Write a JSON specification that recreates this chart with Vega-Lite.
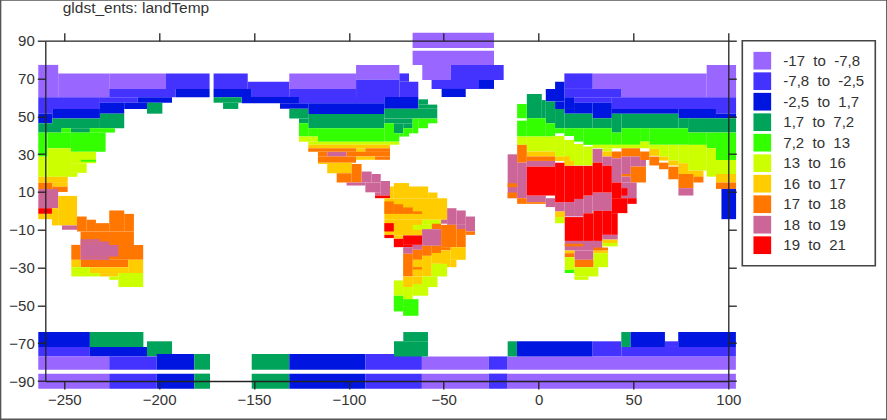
{
"$schema":"https://vega.github.io/schema/vega-lite/v6.json",
"description":"gldst_ents land temperature map, blocky grid cells by class",
"width":683,"height":340.3,
"autosize":{"type":"none"},
"padding":{"left":45.3,"top":40.7,"right":158.7,"bottom":39},
"background":"white",
"title":{"text":"gldst_ents: landTemp","anchor":"start","frame":"group","dx":17.4,"offset":-29.3,"baseline":"alphabetic","font":"Liberation Sans","fontSize":15.5,"fontWeight":"normal","color":"#333333"},
"config":{"view":{"stroke":null},"legend":{"strokeWidth":1.6},"axis":{"labelFont":"Liberation Sans","labelFontSize":15,"labelColor":"#333333","domainColor":"#222222","tickColor":"#222222","domainWidth":1.3,"tickWidth":1.3,"tickSize":8,"grid":false,"title":null,"labelOverlap":false,"labelBound":false,"labelFlush":false}},
"layer":[
{"data":{"values":[
{"w":-263.7,"e":-253.2,"s":60.1,"n":77.2,"c":1},{"w":-253.2,"e":-226.3,"s":60.1,"n":72.7,"c":1},{"w":-226.3,"e":-196.4,"s":64.5,"n":72.7,"c":1},
{"w":-196.4,"e":-173.4,"s":64.5,"n":72.7,"c":2},{"w":-226.3,"e":-191.3,"s":60.1,"n":64.5,"c":2},{"w":-263.7,"e":-231.2,"s":53.9,"n":60.1,"c":2},{"w":-263.7,"e":-256.3,"s":51.4,"n":53.9,"c":2},{"w":-231.2,"e":-211.3,"s":57.2,"n":60.1,"c":2},
{"w":-263.7,"e":-256.3,"s":46.3,"n":51.4,"c":3},{"w":-256.3,"e":-231.2,"s":48.8,"n":53.9,"c":3},{"w":-231.2,"e":-218.4,"s":51.4,"n":57.2,"c":3},{"w":-218.4,"e":-206.4,"s":53.9,"n":57.2,"c":3},{"w":-211.3,"e":-193.2,"s":57.2,"n":60.1,"c":3},{"w":-191.3,"e":-173.4,"s":60.1,"n":64.5,"c":3},
{"w":-263.7,"e":-251.4,"s":41.4,"n":46.3,"c":4},{"w":-256.3,"e":-231.2,"s":43.7,"n":48.8,"c":4},{"w":-231.2,"e":-218.4,"s":43.7,"n":51.4,"c":4},{"w":-246.5,"e":-236.5,"s":41.4,"n":43.7,"c":4},{"w":-206.4,"e":-198.3,"s":51.4,"n":57.2,"c":4},
{"w":-251.4,"e":-246.5,"s":41.4,"n":43.7,"c":5},{"w":-236.5,"e":-223.3,"s":41.4,"n":43.7,"c":5},{"w":-263.7,"e":-258.8,"s":28.7,"n":41.4,"c":5},{"w":-258.8,"e":-246.5,"s":33.1,"n":41.4,"c":5},{"w":-246.5,"e":-228.2,"s":31.2,"n":41.4,"c":5},
{"w":-263.7,"e":-258.8,"s":18,"n":28.7,"c":6},{"w":-258.8,"e":-246.5,"s":18,"n":33.1,"c":6},{"w":-246.5,"e":-233.3,"s":25.2,"n":31.2,"c":6},{"w":-246.5,"e":-238.2,"s":20.1,"n":25.2,"c":6},{"w":-246.5,"e":-243.1,"s":18,"n":20.1,"c":6},{"w":-241.2,"e":-233.3,"s":26,"n":27,"c":5},
{"w":-263.7,"e":-248.2,"s":14.8,"n":18,"c":7},{"w":-256.3,"e":-248.2,"s":12.8,"n":14.8,"c":7},{"w":-263.7,"e":-256.3,"s":11.4,"n":14.8,"c":8},{"w":-256.3,"e":-248.2,"s":10,"n":12.8,"c":8},
{"w":-263.7,"e":-253.2,"s":1.4,"n":11.5,"c":9},{"w":-263.7,"e":-256.5,"s":-1.6,"n":1.4,"c":10},{"w":-263.7,"e":-256.5,"s":-4.4,"n":-1.6,"c":7},{"w":-256.5,"e":-253.2,"s":-7.7,"n":1.4,"c":7},{"w":-253.2,"e":-243.3,"s":-7.7,"n":7.9,"c":7},{"w":-251.2,"e":-243.3,"s":-10,"n":-7.7,"c":9},
{"w":-243.3,"e":-238.2,"s":-10.9,"n":-3,"c":8},{"w":-238.2,"e":-233.3,"s":-10.9,"n":-4.7,"c":8},{"w":-233.3,"e":-226.3,"s":-10.9,"n":-6.5,"c":8},{"w":-226.3,"e":-218.4,"s":-10.9,"n":0.2,"c":8},{"w":-218.4,"e":-213.3,"s":-10.9,"n":-1.6,"c":8},{"w":-246.3,"e":-241.4,"s":-25.9,"n":-18,"c":8},{"w":-241.4,"e":-213.3,"s":-18,"n":-10.9,"c":8},{"w":-241.4,"e":-208.4,"s":-25.9,"n":-18,"c":8},{"w":-241.4,"e":-216.3,"s":-29.8,"n":-25.9,"c":8},
{"w":-241.4,"e":-231.2,"s":-16.2,"n":-15,"c":9},{"w":-241.4,"e":-226.3,"s":-18,"n":-16.2,"c":9},{"w":-241.4,"e":-221.5,"s":-24.1,"n":-18,"c":9},{"w":-241.4,"e":-226.3,"s":-25.9,"n":-24.1,"c":9},
{"w":-246.3,"e":-241.4,"s":-29.8,"n":-25.9,"c":7},{"w":-236.5,"e":-216.3,"s":-32.9,"n":-29.8,"c":7},{"w":-216.3,"e":-208.4,"s":-32.9,"n":-25.9,"c":7},{"w":-231.2,"e":-221.5,"s":-34.7,"n":-32.9,"c":7},
{"w":-246.3,"e":-236.5,"s":-34.7,"n":-29.8,"c":6},{"w":-236.5,"e":-231.2,"s":-34.7,"n":-32.9,"c":6},{"w":-226.3,"e":-221.5,"s":-36.5,"n":-34.7,"c":6},{"w":-221.5,"e":-208.4,"s":-40.3,"n":-32.9,"c":6},
{"w":-171.3,"e":-153.3,"s":64.5,"n":72.7,"c":2},{"w":-153.3,"e":-131.4,"s":64.5,"n":68.3,"c":2},{"w":-151.2,"e":-131.4,"s":60.1,"n":64.5,"c":2},{"w":-171.3,"e":-151.2,"s":60.1,"n":64.5,"c":3},{"w":-156.5,"e":-126.3,"s":56.9,"n":60.2,"c":3},{"w":-136.3,"e":-121.4,"s":54,"n":56.9,"c":3},{"w":-171.3,"e":-156.5,"s":57.2,"n":60.1,"c":4},{"w":-166.3,"e":-158.3,"s":53.9,"n":57.2,"c":4},
{"w":-131.4,"e":-96.2,"s":64.5,"n":72.7,"c":1},{"w":-96.2,"e":-73.4,"s":69.3,"n":77.2,"c":1},
{"w":-131.4,"e":-96.2,"s":60.2,"n":64.5,"c":2},{"w":-96.2,"e":-73.4,"s":60.2,"n":69.3,"c":2},{"w":-73.4,"e":-63.4,"s":60.2,"n":68.3,"c":2},{"w":-73.4,"e":-68.3,"s":68.3,"n":72.7,"c":2},{"w":-126.3,"e":-81.3,"s":56.9,"n":60.2,"c":2},
{"w":-121.4,"e":-81.3,"s":51.2,"n":56.9,"c":3},{"w":-81.3,"e":-63.4,"s":54,"n":60.2,"c":3},
{"w":-131.4,"e":-121.4,"s":48.8,"n":54,"c":4},{"w":-121.4,"e":-81.3,"s":43.7,"n":51.2,"c":4},{"w":-126.3,"e":-121.4,"s":46.3,"n":48.8,"c":4},{"w":-81.3,"e":-53.4,"s":48.8,"n":54,"c":4},{"w":-63.4,"e":-53.4,"s":54,"n":56.2,"c":4},{"w":-63.4,"e":-58.3,"s":56.2,"n":59,"c":4},{"w":-81.3,"e":-66.4,"s":46.3,"n":48.8,"c":4},{"w":-76.2,"e":-71.3,"s":41,"n":46.3,"c":4},{"w":-71.3,"e":-66.4,"s":43.7,"n":46.3,"c":4},
{"w":-126.3,"e":-121.4,"s":39.3,"n":46.3,"c":5},{"w":-121.4,"e":-116.3,"s":39.3,"n":43.7,"c":5},{"w":-116.3,"e":-81.3,"s":36.6,"n":43.7,"c":5},{"w":-81.3,"e":-76.2,"s":36.6,"n":46.3,"c":5},{"w":-76.2,"e":-73.4,"s":36.6,"n":41,"c":5},{"w":-73.4,"e":-71.3,"s":39.3,"n":41,"c":5},{"w":-71.3,"e":-68.3,"s":39.3,"n":43.7,"c":5},{"w":-68.3,"e":-66.4,"s":41,"n":43.7,"c":5},{"w":-66.4,"e":-63.4,"s":41,"n":48.8,"c":5},{"w":-63.4,"e":-58.3,"s":43.7,"n":48.8,"c":5},{"w":-58.3,"e":-53.4,"s":46.3,"n":48.8,"c":5},
{"w":-126.3,"e":-116.3,"s":36.6,"n":39.3,"c":6},{"w":-121.4,"e":-73.4,"s":34.9,"n":36.6,"c":6},
{"w":-121.4,"e":-78.3,"s":33.1,"n":34.9,"c":7},{"w":-121.4,"e":-96.2,"s":31.2,"n":33.1,"c":8},{"w":-96.2,"e":-91.3,"s":31.2,"n":33.1,"c":7},{"w":-91.3,"e":-78.3,"s":31.2,"n":33.1,"c":8},{"w":-116.3,"e":-111.4,"s":28.7,"n":31.2,"c":8},{"w":-111.4,"e":-101.2,"s":28.7,"n":31.2,"c":9},{"w":-101.2,"e":-78.3,"s":28.7,"n":31.2,"c":8},{"w":-116.3,"e":-96.2,"s":25.5,"n":28.7,"c":8},{"w":-96.2,"e":-86.2,"s":27,"n":28.7,"c":7},{"w":-86.2,"e":-78.3,"s":27,"n":28.7,"c":8},{"w":-116.3,"e":-111.4,"s":24.8,"n":25.5,"c":7},{"w":-111.4,"e":-98.5,"s":19.9,"n":25.5,"c":7},{"w":-98.5,"e":-93.3,"s":15,"n":24.8,"c":8},{"w":-106.4,"e":-98.5,"s":15,"n":19.9,"c":8},
{"w":-93.3,"e":-88,"s":15,"n":20.8,"c":9},{"w":-88,"e":-83.2,"s":15,"n":19.5,"c":9},{"w":-101.2,"e":-91.3,"s":13.4,"n":15,"c":9},{"w":-91.3,"e":-83.2,"s":9.8,"n":15,"c":9},{"w":-83.2,"e":-78.3,"s":8.1,"n":15.8,"c":9},{"w":-86.2,"e":-83.2,"s":8.1,"n":9.8,"c":9},{"w":-86.2,"e":-78.3,"s":6.7,"n":8.1,"c":10},
{"w":-66.4,"e":-23.5,"s":86.1,"n":94.2,"c":1},{"w":-66.4,"e":-23.5,"s":77.2,"n":84.7,"c":1},{"w":-61.3,"e":-46.3,"s":69.2,"n":77.2,"c":1},{"w":-46.3,"e":-18.4,"s":69.2,"n":77.2,"c":2},{"w":-56.4,"e":-31.4,"s":64.5,"n":69.2,"c":2},{"w":-31.4,"e":-23.5,"s":64.5,"n":69.2,"c":3},{"w":-51.1,"e":-38.4,"s":60.2,"n":64.5,"c":3},
{"w":-76.3,"e":-68.3,"s":6.7,"n":14.7,"c":7},{"w":-78.3,"e":-76.3,"s":6.7,"n":12.9,"c":7},{"w":-68.3,"e":-58.2,"s":6.7,"n":12.9,"c":7},{"w":-58.2,"e":-53.3,"s":6.7,"n":9.7,"c":7},{"w":-81.3,"e":-48.2,"s":-4.7,"n":6.7,"c":7},{"w":-81.3,"e":-76.3,"s":-12.7,"n":-4.7,"c":7},{"w":-76.3,"e":-61.4,"s":-13,"n":-4.7,"c":7},{"w":-76.3,"e":-71.4,"s":-14.8,"n":-13,"c":7},
{"w":-81.3,"e":-76.3,"s":-1.6,"n":5,"c":8},{"w":-76.3,"e":-71.4,"s":-1.6,"n":3.5,"c":8},{"w":-71.4,"e":-66.3,"s":-1.6,"n":1.8,"c":8},{"w":-66.3,"e":-61.4,"s":-1.6,"n":-0.3,"c":8},
{"w":-61.4,"e":-51.4,"s":-7.4,"n":-4.7,"c":6},{"w":-66.3,"e":-56.3,"s":-10,"n":-7.4,"c":6},
{"w":-81.3,"e":-76.3,"s":-10.9,"n":-6.5,"c":10},{"w":-81.3,"e":-76.3,"s":-14.4,"n":-12.7,"c":10},{"w":-71.4,"e":-61.4,"s":-18,"n":-13,"c":10},{"w":-76.3,"e":-71.4,"s":-19.2,"n":-14.8,"c":10},{"w":-71.4,"e":-66.3,"s":-19.2,"n":-18,"c":10},
{"w":-48.2,"e":-43.3,"s":-7.4,"n":1.4,"c":9},{"w":-43.3,"e":-38.4,"s":-7.4,"n":0.2,"c":9},{"w":-38.4,"e":-33.5,"s":-10.9,"n":-3,"c":9},{"w":-51.4,"e":-48.2,"s":-6.8,"n":-4.7,"c":9},{"w":-61.4,"e":-51.4,"s":-18.5,"n":-9.7,"c":9},{"w":-66.3,"e":-61.4,"s":-20.6,"n":-18,"c":9},{"w":-71.4,"e":-66.3,"s":-22.7,"n":-19.2,"c":9},{"w":-43.3,"e":-38.4,"s":-9.6,"n":-7.4,"c":9},
{"w":-56.3,"e":-51.4,"s":-9.6,"n":-6.8,"c":8},{"w":-51.4,"e":-43.3,"s":-19.2,"n":-7.4,"c":8},{"w":-43.3,"e":-38.4,"s":-19.2,"n":-9.6,"c":8},{"w":-38.4,"e":-33.5,"s":-12.7,"n":-10.9,"c":8},{"w":-71.4,"e":-66.3,"s":-34.7,"n":-22.7,"c":8},{"w":-66.3,"e":-61.4,"s":-25.9,"n":-20.6,"c":8},{"w":-61.4,"e":-56.3,"s":-23.8,"n":-18.5,"c":8},{"w":-56.3,"e":-51.4,"s":-22.3,"n":-18.5,"c":8},{"w":-51.4,"e":-46.3,"s":-20.9,"n":-19.2,"c":8},
{"w":-46.3,"e":-38.4,"s":-25.9,"n":-19.2,"c":7},{"w":-51.4,"e":-46.3,"s":-29.8,"n":-20.9,"c":7},{"w":-46.3,"e":-43.3,"s":-29.8,"n":-25.9,"c":7},{"w":-56.3,"e":-51.4,"s":-28,"n":-22.3,"c":7},{"w":-61.4,"e":-56.3,"s":-34.7,"n":-23.8,"c":7},{"w":-66.3,"e":-61.4,"s":-34.7,"n":-25.9,"c":7},{"w":-71.4,"e":-66.3,"s":-40.3,"n":-34.7,"c":7},{"w":-66.3,"e":-61.4,"s":-38.7,"n":-34.7,"c":7},{"w":-66.3,"e":-61.4,"s":-31,"n":-29.8,"c":8},
{"w":-56.3,"e":-48.2,"s":-34.7,"n":-28,"c":6},{"w":-61.4,"e":-53.3,"s":-40.3,"n":-34.7,"c":6},{"w":-66.3,"e":-58.2,"s":-44.9,"n":-38.7,"c":6},{"w":-76.3,"e":-71.4,"s":-44.9,"n":-36.8,"c":6},{"w":-71.4,"e":-66.3,"s":-46.7,"n":-40.3,"c":6},
{"w":-76.3,"e":-71.4,"s":-53.2,"n":-44.9,"c":5},{"w":-71.4,"e":-63.3,"s":-55.5,"n":-46.7,"c":5},
{"w":28.5,"e":88.6,"s":64.5,"n":72.7,"c":1},{"w":43.7,"e":88.6,"s":60.1,"n":64.5,"c":1},{"w":88.6,"e":104.1,"s":60.1,"n":77.2,"c":1},
{"w":13.6,"e":28.5,"s":64.5,"n":72.7,"c":2},{"w":13.6,"e":43.7,"s":60.1,"n":64.5,"c":2},{"w":18.7,"e":38.6,"s":57.2,"n":60.1,"c":2},{"w":38.6,"e":104.1,"s":53.9,"n":60.1,"c":2},{"w":93.5,"e":104.1,"s":51.4,"n":53.9,"c":2},
{"w":8.7,"e":13.6,"s":64.5,"n":68.3,"c":3},{"w":3.8,"e":13.6,"s":57.8,"n":64.5,"c":3},{"w":13.6,"e":18.7,"s":53.9,"n":60.1,"c":3},{"w":8.7,"e":13.6,"s":53.9,"n":57.8,"c":3},{"w":18.7,"e":28.5,"s":51.4,"n":57.2,"c":3},{"w":13.6,"e":18.7,"s":51.4,"n":53.9,"c":3},{"w":28.5,"e":38.6,"s":49,"n":57.2,"c":3},{"w":38.6,"e":73.7,"s":51.4,"n":53.9,"c":3},{"w":73.7,"e":93.5,"s":49,"n":53.9,"c":3},{"w":93.5,"e":104.1,"s":49,"n":51.4,"c":3},
{"w":-6.2,"e":1.7,"s":49,"n":61.8,"c":4},{"w":1.7,"e":3.8,"s":49,"n":58.6,"c":4},{"w":3.8,"e":8.7,"s":46.3,"n":57.8,"c":4},{"w":8.7,"e":13.6,"s":43.7,"n":53.9,"c":4},{"w":13.6,"e":28.5,"s":43.7,"n":51.4,"c":4},{"w":28.5,"e":38.6,"s":43.7,"n":49,"c":4},{"w":38.6,"e":43.7,"s":41.4,"n":51.4,"c":4},{"w":43.7,"e":73.7,"s":43.7,"n":51.4,"c":4},{"w":73.7,"e":78.8,"s":43.7,"n":49,"c":4},{"w":78.8,"e":104.1,"s":41.4,"n":49,"c":4},
{"w":-11.3,"e":-6.2,"s":49,"n":56.5,"c":5},{"w":-11.3,"e":-6.2,"s":39.3,"n":47.7,"c":5},{"w":-6.2,"e":3.8,"s":39.3,"n":49,"c":5},{"w":3.8,"e":8.7,"s":39.3,"n":46.3,"c":5},{"w":8.7,"e":13.6,"s":41,"n":43.7,"c":5},{"w":13.6,"e":18.7,"s":39.6,"n":43.7,"c":5},{"w":18.7,"e":23.6,"s":36.6,"n":43.7,"c":5},{"w":23.6,"e":38.6,"s":34.9,"n":43.7,"c":5},{"w":38.6,"e":43.7,"s":34.9,"n":41.4,"c":5},{"w":43.7,"e":53.5,"s":34.9,"n":43.7,"c":5},{"w":53.5,"e":58.4,"s":36.6,"n":43.7,"c":5},{"w":58.4,"e":78.8,"s":34.9,"n":43.7,"c":5},{"w":78.8,"e":88.6,"s":34.9,"n":41.4,"c":5},{"w":88.6,"e":93.5,"s":33.1,"n":41.4,"c":5},{"w":93.5,"e":104.1,"s":26.9,"n":41.4,"c":5},
{"w":-11.3,"e":-6.2,"s":34.9,"n":39.3,"c":6},{"w":-6.2,"e":8.7,"s":31.4,"n":39.3,"c":6},{"w":8.7,"e":13.6,"s":28.8,"n":39.6,"c":6},{"w":13.6,"e":18.7,"s":24,"n":37.5,"c":6},{"w":18.7,"e":23.6,"s":24,"n":35.4,"c":6},{"w":23.6,"e":28.5,"s":24,"n":34,"c":6},{"w":28.5,"e":53.5,"s":33.1,"n":34.9,"c":6},{"w":33.6,"e":38.6,"s":31.4,"n":33.1,"c":6},{"w":53.5,"e":58.4,"s":33.1,"n":36.6,"c":6},{"w":58.4,"e":63.5,"s":32.7,"n":34.9,"c":6},{"w":63.5,"e":68.4,"s":28.7,"n":34.9,"c":6},{"w":68.4,"e":73.7,"s":26.6,"n":34.9,"c":6},{"w":73.7,"e":78.8,"s":25.2,"n":34.9,"c":6},{"w":78.8,"e":88.6,"s":21.3,"n":34.9,"c":6},{"w":88.6,"e":93.5,"s":18.1,"n":33.1,"c":6},{"w":93.5,"e":104.1,"s":19.5,"n":26.9,"c":6},
{"w":-6.2,"e":8.7,"s":28.8,"n":31.4,"c":7},{"w":8.7,"e":16.6,"s":26.4,"n":28.8,"c":7},{"w":13.6,"e":18.7,"s":24,"n":26.4,"c":7},{"w":33.6,"e":38.6,"s":28.7,"n":31.4,"c":7},{"w":58.4,"e":63.5,"s":29.1,"n":32.7,"c":7},{"w":63.5,"e":68.4,"s":26.6,"n":28.7,"c":7},{"w":68.4,"e":73.7,"s":24,"n":26.6,"c":7},{"w":73.7,"e":78.8,"s":19.5,"n":25.2,"c":7},{"w":78.8,"e":86.9,"s":18,"n":21.3,"c":7},{"w":93.5,"e":104.1,"s":15,"n":19.5,"c":7},
{"w":38.6,"e":43.7,"s":27.8,"n":31.4,"c":8},{"w":43.7,"e":53.5,"s":28.7,"n":33.1,"c":8},{"w":53.5,"e":58.4,"s":26.9,"n":31.4,"c":8},{"w":58.4,"e":63.5,"s":24,"n":28.7,"c":8},{"w":63.5,"e":68.4,"s":22,"n":25.5,"c":8},{"w":68.4,"e":73.7,"s":16.7,"n":23.4,"c":8},{"w":73.7,"e":81.6,"s":12,"n":19.5,"c":8},{"w":81.6,"e":86.9,"s":15,"n":18.1,"c":8},{"w":93.5,"e":104.1,"s":11.6,"n":15,"c":8},{"w":73.7,"e":81.6,"s":8.1,"n":12,"c":9},{"w":96.4,"e":104.1,"s":-4.4,"n":11.6,"c":3},
{"w":-11.3,"e":-6.2,"s":25.5,"n":34.9,"c":8},{"w":-6.2,"e":8.7,"s":26.4,"n":28.8,"c":8},
{"w":-16.3,"e":-11.3,"s":6.7,"n":29.9,"c":9},{"w":-16.3,"e":-11.3,"s":12.5,"n":14.6,"c":8},{"w":-16.3,"e":-11.3,"s":6.7,"n":9.7,"c":8},{"w":-11.3,"e":-6.2,"s":6.7,"n":25.5,"c":9},{"w":-11.3,"e":-6.2,"s":3.7,"n":6.7,"c":8},{"w":-6.2,"e":8.7,"s":23.4,"n":26.4,"c":9},
{"w":28.5,"e":33.6,"s":25.5,"n":32.8,"c":9},{"w":33.6,"e":38.6,"s":23.8,"n":28.7,"c":9},{"w":38.6,"e":43.7,"s":15,"n":27.8,"c":9},{"w":43.7,"e":48.6,"s":19.5,"n":28.7,"c":9},{"w":48.6,"e":53.5,"s":23.4,"n":28.7,"c":9},{"w":53.5,"e":56.6,"s":23.4,"n":26.9,"c":9},{"w":48.6,"e":56.6,"s":15,"n":23.4,"c":8},{"w":43.7,"e":48.6,"s":18.1,"n":19.5,"c":8},{"w":43.7,"e":48.6,"s":15,"n":18.1,"c":9},{"w":43.7,"e":51.7,"s":6.7,"n":15,"c":9},
{"w":-6.2,"e":3.8,"s":4.6,"n":8.1,"c":9},{"w":-6.2,"e":3.8,"s":3.7,"n":4.6,"c":8},{"w":3.8,"e":8.7,"s":2,"n":6.7,"c":9},{"w":8.7,"e":13.6,"s":-0.4,"n":4.6,"c":9},{"w":13.6,"e":18.7,"s":-3,"n":4.6,"c":9},{"w":18.7,"e":23.6,"s":-3,"n":6.3,"c":9},{"w":23.6,"e":28.5,"s":-1.3,"n":8.1,"c":9},{"w":28.5,"e":38.6,"s":0,"n":9.7,"c":9},
{"w":-6.2,"e":8.7,"s":8.1,"n":23.4,"c":10},{"w":8.7,"e":13.6,"s":4.6,"n":25.5,"c":10},{"w":13.6,"e":18.7,"s":4.6,"n":23.8,"c":10},{"w":18.7,"e":23.6,"s":6.3,"n":23.8,"c":10},{"w":23.6,"e":28.5,"s":8.1,"n":23.8,"c":10},{"w":28.5,"e":33.6,"s":9.7,"n":25.5,"c":10},{"w":33.6,"e":38.6,"s":9.7,"n":23.8,"c":10},{"w":38.6,"e":43.7,"s":6.7,"n":15,"c":10},{"w":43.7,"e":46.8,"s":8.1,"n":12,"c":10},{"w":38.6,"e":46.8,"s":-1.2,"n":6.7,"c":10},{"w":46.8,"e":51.7,"s":3.7,"n":6.7,"c":10},
{"w":8.7,"e":13.8,"s":-3.3,"n":-0.3,"c":7},{"w":8.7,"e":13.8,"s":-6.5,"n":-3.3,"c":6},
{"w":13.8,"e":23.6,"s":-15.9,"n":-3.3,"c":10},{"w":23.6,"e":28.9,"s":-15.9,"n":-1.3,"c":10},{"w":28.9,"e":33.6,"s":-15.9,"n":0,"c":10},{"w":33.6,"e":38.6,"s":-12.7,"n":0,"c":10},{"w":38.6,"e":41.7,"s":-12.7,"n":-1.2,"c":10},
{"w":13.8,"e":33.6,"s":-21,"n":-15.9,"c":9},{"w":13.8,"e":23.6,"s":-18.8,"n":-17.4,"c":8},{"w":18.9,"e":28.9,"s":-25.9,"n":-21,"c":9},{"w":33.6,"e":41.7,"s":-15.2,"n":-12.7,"c":9},{"w":33.6,"e":41.7,"s":-17,"n":-15.2,"c":7},{"w":33.6,"e":41.7,"s":-18.8,"n":-17,"c":6},{"w":28.9,"e":36.6,"s":-21,"n":-19.4,"c":8},{"w":28.9,"e":36.6,"s":-22.4,"n":-21,"c":7},{"w":28.9,"e":36.6,"s":-29.8,"n":-22.4,"c":6},{"w":18.9,"e":28.9,"s":-29.8,"n":-25.9,"c":8},{"w":13.8,"e":18.9,"s":-22.4,"n":-21,"c":7},{"w":13.8,"e":18.9,"s":-24.5,"n":-22.4,"c":8},{"w":13.8,"e":18.9,"s":-31.2,"n":-24.5,"c":6},{"w":13.8,"e":18.9,"s":-32.9,"n":-31.2,"c":5},{"w":18.9,"e":31.5,"s":-34.7,"n":-29.8,"c":6},{"w":18.9,"e":26.3,"s":-36.5,"n":-34.7,"c":6},
{"w":-263.7,"e":-236.5,"s":-72,"n":-64.1,"c":3},{"w":-236.5,"e":-208.3,"s":-72,"n":-64.1,"c":4},{"w":-263.7,"e":-236.5,"s":-77,"n":-72,"c":2},{"w":-236.5,"e":-206.4,"s":-77,"n":-72,"c":3},{"w":-206.4,"e":-193.2,"s":-77,"n":-69,"c":4},
{"w":-263.7,"e":-226.3,"s":-84,"n":-77,"c":1},{"w":-226.3,"e":-201.3,"s":-84,"n":-77,"c":2},{"w":-201.3,"e":-181.5,"s":-84,"n":-75.7,"c":3},{"w":-181.5,"e":-173.2,"s":-84,"n":-75.7,"c":4},{"w":-151.2,"e":-131.4,"s":-84,"n":-75.7,"c":4},{"w":-131.4,"e":-91.3,"s":-84,"n":-75.7,"c":3},{"w":-91.3,"e":-61.5,"s":-84,"n":-75.7,"c":2},{"w":-61.5,"e":-26.3,"s":-84,"n":-77,"c":1},{"w":-26.3,"e":-16.3,"s":-84,"n":-77,"c":2},{"w":-16.3,"e":104,"s":-84,"n":-77,"c":1},
{"w":-263.7,"e":-226.3,"s":-94.1,"n":-86.1,"c":1},{"w":-226.3,"e":-201.3,"s":-94.1,"n":-86.1,"c":2},{"w":-201.3,"e":-181.5,"s":-94.1,"n":-86.1,"c":3},{"w":-181.5,"e":-173.2,"s":-94.1,"n":-86.1,"c":4},{"w":-151.2,"e":-131.4,"s":-94.1,"n":-86.1,"c":4},{"w":-131.4,"e":-91.3,"s":-94.1,"n":-86.1,"c":3},{"w":-91.3,"e":-61.5,"s":-94.1,"n":-86.1,"c":2},{"w":-61.5,"e":-26.3,"s":-94.1,"n":-86.1,"c":1},{"w":-26.3,"e":-16.3,"s":-94.1,"n":-86.1,"c":2},{"w":-16.3,"e":104,"s":-94.1,"n":-86.1,"c":1},
{"w":-76.2,"e":-58.3,"s":-77,"n":-69,"c":4},{"w":-71.3,"e":-58.3,"s":-69,"n":-64.1,"c":4},{"w":-16.3,"e":-11.4,"s":-77,"n":-69,"c":4},{"w":-11.4,"e":28.5,"s":-77,"n":-69,"c":3},{"w":28.5,"e":43.6,"s":-77,"n":-69,"c":2},{"w":43.6,"e":104,"s":-77,"n":-72,"c":2},{"w":66.6,"e":73.6,"s":-72,"n":-69,"c":2},{"w":43.6,"e":48.5,"s":-72,"n":-64.1,"c":4},{"w":48.5,"e":66.6,"s":-72,"n":-64.1,"c":3},{"w":73.6,"e":104,"s":-72,"n":-64.1,"c":3}
]},
"mark":{"type":"rect","strokeWidth":0,"binSpacing":0},
"encoding":{
"x":{"field":"w","type":"quantitative","scale":{"domain":[-260,100],"nice":false,"zero":false},"axis":{"orient":"bottom","zindex":1,"values":[-250,-200,-150,-100,-50,0,50,100],"labelPadding":3}},
"x2":{"field":"e"},
"y":{"field":"s","type":"quantitative","scale":{"domain":[-90,90],"nice":false,"zero":false},"axis":{"orient":"left","zindex":1,"values":[90,70,50,30,10,-10,-30,-50,-70,-90],"labelPadding":3}},
"y2":{"field":"n"},
"color":{"field":"c","type":"ordinal","scale":{"domain":[1,2,3,4,5,6,7,8,9,10],"range":["#9966FF","#4433FF","#0015E0","#00A35A","#33FF00","#CCFF00","#FFCC00","#FF7700","#CC6699","#FF0000"]},
"legend":{"title":null,"orient":"none","legendX":697,"legendY":0,"symbolType":"square","symbolSize":313,"symbolOpacity":1,"symbolStrokeWidth":0,"rowPadding":2.5,"labelOffset":12,"labelFont":"Liberation Sans","labelFontSize":15,"labelColor":"#333333","fillColor":"white","strokeColor":"#444444","padding":11,"labelExpr":"['-17\u00a0\u00a0to\u00a0\u00a0-7,8','-7,8\u00a0\u00a0to\u00a0\u00a0-2,5','-2,5\u00a0\u00a0to\u00a0\u00a01,7','1,7\u00a0\u00a0to\u00a0\u00a07,2','7,2\u00a0\u00a0to\u00a0\u00a013','13\u00a0\u00a0to\u00a0\u00a016','16\u00a0\u00a0to\u00a0\u00a017','17\u00a0\u00a0to\u00a0\u00a018','18\u00a0\u00a0to\u00a0\u00a019','19\u00a0\u00a0to\u00a0\u00a021'][datum.value-1]"}}
}},
{"data":{"values":[{"w":-283.7,"e":183.7,"s":-110.4,"n":111.6}]},
"mark":{"type":"rect","fill":null,"stroke":"#555555","strokeWidth":2,"binSpacing":0},
"encoding":{
"x":{"field":"w","type":"quantitative","scale":{"domain":[-260,100],"nice":false,"zero":false},"axis":{"orient":"top","zindex":1,"values":[-250,-200,-150,-100,-50,0,50,100],"labels":false}},
"x2":{"field":"e"},
"y":{"field":"s","type":"quantitative","scale":{"domain":[-90,90],"nice":false,"zero":false},"axis":{"orient":"right","zindex":1,"values":[90,70,50,30,10,-10,-30,-50,-70,-90],"labels":false}},
"y2":{"field":"n"}
}}
],
"resolve":{"axis":{"x":"independent","y":"independent"}}
}
